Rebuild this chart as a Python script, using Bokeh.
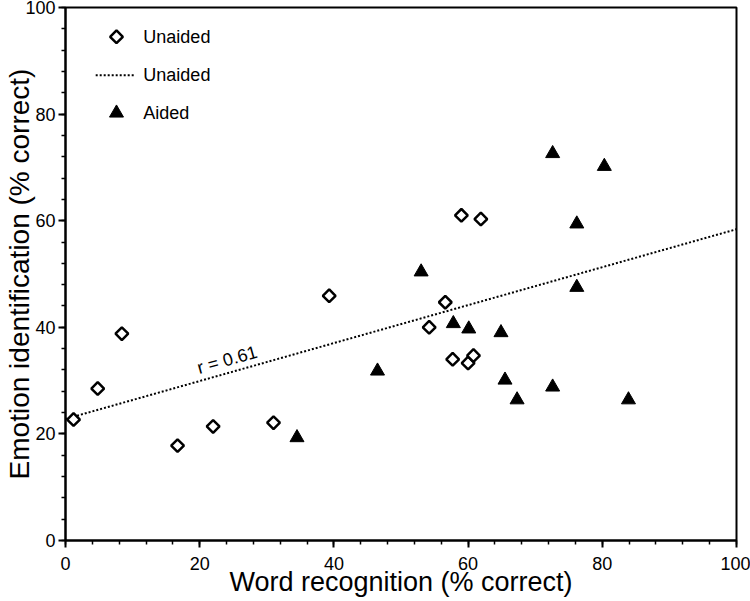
import math
from bokeh.plotting import figure
from bokeh.models import Range1d, SingleIntervalTicker, Label
from bokeh.core.properties import value
from bokeh.embed import file_html
from bokeh.resources import INLINE

# ---- data ----
unaided_x = [1.2, 4.8, 8.4, 16.7, 22.0, 31.0, 39.3, 56.6, 54.2, 57.7, 60.0, 60.8, 59.0, 61.9]
unaided_y = [22.7, 28.5, 38.8, 17.8, 21.4, 22.1, 45.9, 44.7, 40.0, 34.0, 33.3, 34.7, 61.0, 60.3]

aided_x = [34.5, 46.5, 53.0, 57.8, 60.1, 64.9, 65.5, 67.3, 72.6, 72.6, 76.2, 76.2, 80.3, 83.9]
aided_y = [19.3, 31.8, 50.4, 40.7, 39.7, 39.0, 30.1, 26.4, 28.8, 72.6, 59.4, 47.5, 70.2, 26.4]

fit_x = [0, 100]
fit_y = [22.8, 58.4]
r_text = "r = 0.61"

legend_labels = ["Unaided", "Unaided", "Aided"]
x_title = "Word recognition (% correct)"
y_title = "Emotion identification (% correct)"

FONT = "Liberation Sans"

p = figure(width=750, height=601, output_backend="svg", toolbar_location=None,
           x_range=Range1d(0, 100), y_range=Range1d(0, 100),
           min_border_left=65, min_border_right=14, min_border_top=7, min_border_bottom=61,
           x_axis_label=x_title, y_axis_label=y_title)
p.margin = (0, 0, 0, 0)
p.grid.visible = False
p.outline_line_color = "black"
p.outline_line_width = 2
p.background_fill_color = "white"
p.border_fill_color = "white"

for ax in (p.xaxis[0], p.yaxis[0]):
    ax.ticker = SingleIntervalTicker(interval=20, num_minor_ticks=5)
    ax.axis_line_width = 2
    ax.major_tick_line_width = 2
    ax.minor_tick_line_width = 1.5
    ax.major_tick_out = 7
    ax.major_tick_in = 0
    ax.minor_tick_out = 4
    ax.minor_tick_in = 0
    ax.major_label_text_font = FONT
    ax.major_label_text_font_size = "18px"
    ax.major_label_text_color = "black"
    ax.axis_label_text_font = FONT
    ax.axis_label_text_font_style = "normal"
    ax.axis_label_text_color = "black"

p.xaxis.axis_label_text_font_size = "27px"
p.yaxis.axis_label_text_font_size = "28px"
p.xaxis.major_label_standoff = 9
p.yaxis.major_label_standoff = 3
p.xaxis.axis_label_standoff = -6
p.yaxis.axis_label_standoff = -13

# regression line
p.line(fit_x, fit_y, line_color="black", line_width=2, line_dash="2 2")

# data
p.scatter(unaided_x, unaided_y, marker="square", angle=math.pi / 4, size=9,
          fill_color="white", line_color="black", line_width=2.5)
p.scatter(aided_x, aided_y, marker="triangle", size=14,
          fill_color="black", line_color="black", line_width=1)

# r label along the line
p.add_layout(Label(x=24.1, y=33.9, text=r_text, angle=0.276, text_align="center",
                   text_baseline="middle", text_font=FONT, text_font_size="18px",
                   text_color="black"))

# manual legend (positions in data space of the fixed 0-100 axes)
LEG_MARK_X = 7.6
LEG_LINE_X = [4.5, 10.4]
LEG_TEXT_X = 11.6
LEG_ROWS_Y = [94.5, 87.3, 80.2]

p.scatter([LEG_MARK_X], [LEG_ROWS_Y[0]], marker="square", angle=math.pi / 4, size=9,
          fill_color="white", line_color="black", line_width=2.5)
p.line(LEG_LINE_X, [LEG_ROWS_Y[1]] * 2, line_color="black", line_width=2, line_dash="2 2")
p.scatter([LEG_MARK_X], [LEG_ROWS_Y[2]], marker="triangle", size=14,
          fill_color="black", line_color="black")
p.text([LEG_TEXT_X] * 3, LEG_ROWS_Y, text=legend_labels, text_font=value(FONT),
       text_font_size="18px", text_baseline="middle", text_align="left", text_color="black")

open("out.html", "w").write(file_html(p, INLINE))
